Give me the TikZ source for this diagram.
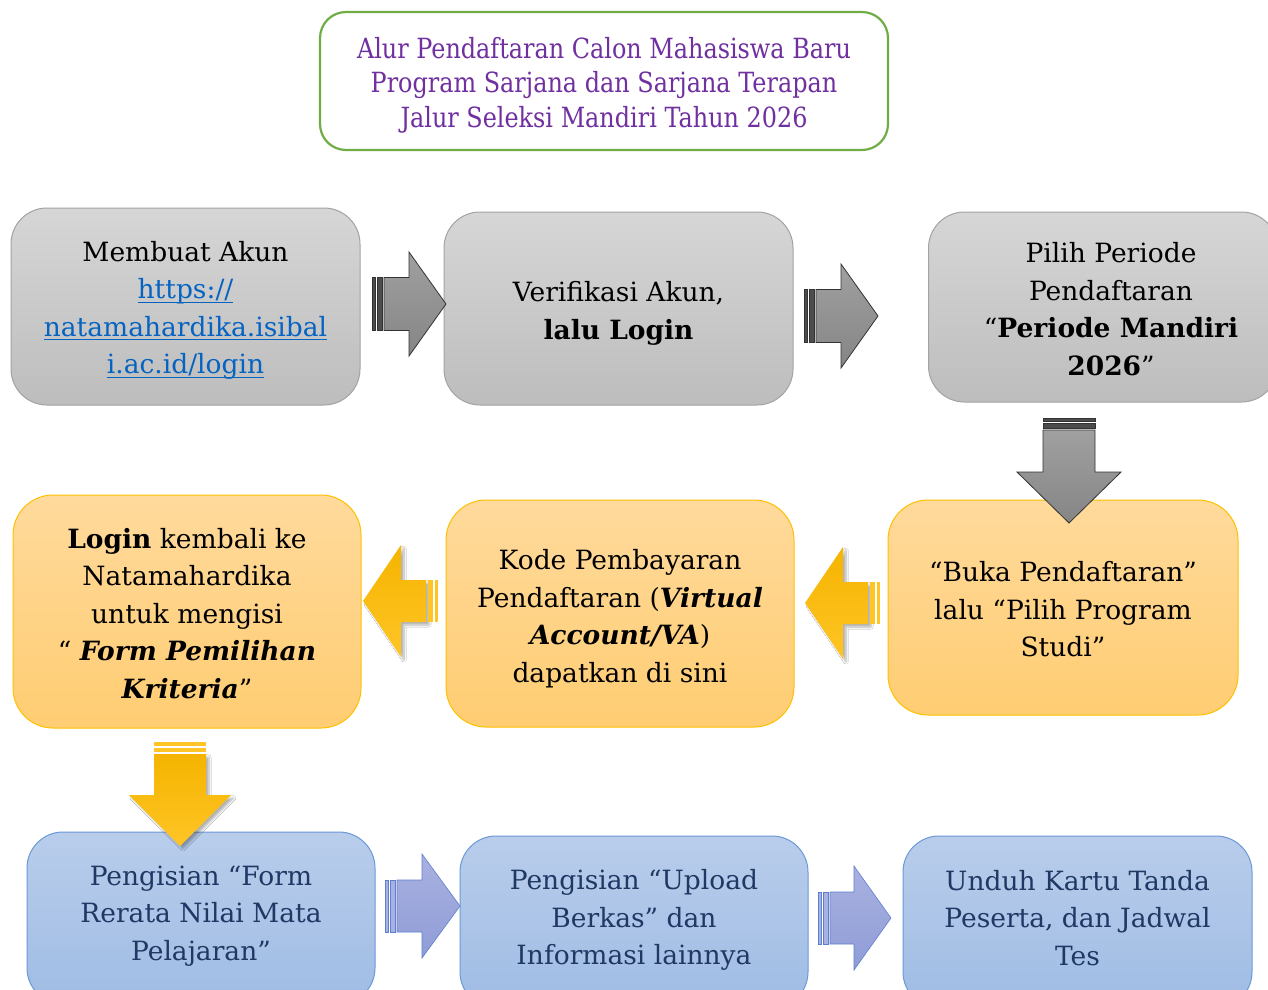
\documentclass[tikz,border=0pt]{standalone}
\usepackage{fontspec}
\setmainfont{DejaVu Serif}
\newfontfamily\titlefont[FakeStretch=0.86]{DejaVu Serif}
\usetikzlibrary{shadows.blur}
\definecolor{titlegreen}{HTML}{70AD47}
\definecolor{titlepurple}{HTML}{7030A0}
\definecolor{graytop}{HTML}{D6D6D6}
\definecolor{graybot}{HTML}{BDBDBD}
\definecolor{grayline}{HTML}{A3A3A3}
\definecolor{orangetop}{HTML}{FFDA9C}
\definecolor{orangebot}{HTML}{FFCD72}
\definecolor{orangeline}{HTML}{FFC000}
\definecolor{bluetop}{HTML}{B9CDEB}
\definecolor{bluebot}{HTML}{9FBCE4}
\definecolor{blueline}{HTML}{6A9AD8}
\definecolor{bluetext}{HTML}{1F3864}
\definecolor{linkblue}{HTML}{0563C1}
\definecolor{arrgray1}{HTML}{A0A0A0}
\definecolor{arrgray2}{HTML}{858585}
\definecolor{arrorange1}{HTML}{F5B400}
\definecolor{arrorange2}{HTML}{FFC526}
\definecolor{arrblue1}{HTML}{A9B1E0}
\definecolor{arrblue2}{HTML}{8F9CD6}
\definecolor{arrblueline}{HTML}{5E7FD0}
% #1 style, #2 x, #3 y (start centre), #4 rotation, #5 length, #6 head length, #7 shaft half, #8 head half
\newcommand\blkarrow[8]{%
  \begin{scope}[shift={(#2,#3)},rotate=#4]
    \path[#1] (12,-#7) -- ({#5-#6},-#7) -- ({#5-#6},-#8) -- (#5,0) -- ({#5-#6},#8) -- ({#5-#6},#7) -- (12,#7) -- cycle;
    \path[#1 stripe] (0,-#7) rectangle (3.5,#7);
    \path[#1 stripe] (5.5,-#7) rectangle (10,#7);
  \end{scope}}
\tikzset{
  box/.style={rounded corners=36pt, line width=1pt, inner sep=0pt},
  txt/.style={align=center, font=\fontsize{26.5}{37.5}\selectfont, inner sep=0pt},
  graybox/.style={box, draw=grayline, top color=graytop, bottom color=graybot},
  orangebox/.style={box, draw=orangeline, top color=orangetop, bottom color=orangebot},
  bluebox/.style={box, draw=blueline, top color=bluetop, bottom color=bluebot},
  bluetxt/.style={txt, text=bluetext},
  grayarrow/.style={draw=black!80, line width=0.8pt, top color=arrgray1, bottom color=arrgray2},
  grayarrow stripe/.style={draw=black!80, line width=0.8pt, fill=black!70},
  orangearrow/.style={top color=arrorange1, bottom color=arrorange2,
    blur shadow={shadow xshift=3pt, shadow yshift=-3pt, shadow blur steps=8, shadow opacity=30}},
  orangearrow stripe/.style={fill=arrorange2},
  bluearrow/.style={draw=arrblueline, line width=0.6pt, top color=arrblue1, bottom color=arrblue2},
  bluearrow stripe/.style={draw=arrblueline, line width=0.6pt, fill=arrblue1},
}
\newcommand\lnk[1]{{\color{linkblue}\setbox0\hbox{#1}\rlap{\raisebox{-4pt}{\rule{\wd0}{1.3pt}}}\box0}}
\begin{document}
\begin{tikzpicture}[x=1pt,y=-1pt]
\useasboundingbox (0,0) rectangle (1268,989);
\fill[white] (0,0) rectangle (1268,989);

% title
\node[draw=titlegreen, line width=2.2pt, rounded corners=26pt, minimum width=568pt,
  minimum height=138pt] (title) at (604,81) {};
\node[align=center, text=titlepurple, inner sep=0pt,
  font=\titlefont\fontsize{27.8}{34.5}\selectfont] (title text) at ([yshift=-4pt]title.center)
  {Alur Pendaftaran Calon Mahasiswa Baru\\Program Sarjana dan Sarjana Terapan\\Jalur Seleksi Mandiri Tahun 2026};

% row 1
\node[graybox, minimum width=349pt, minimum height=197pt] (akun) at (185.5,306.5) {};
\node[txt] (akun text) at ([yshift=-4pt]akun.center)
  {Membuat Akun\\\lnk{https://}\\\lnk{natamahardika.isibal}\\\lnk{i.ac.id/login}};
\node[graybox, minimum width=349pt, minimum height=193pt] (verif) at (618.5,308.5) {};
\node[txt] (verif text) at ([yshift=-5pt]verif.center)
  {Verifikasi Akun,\\\textbf{lalu Login}};
\node[graybox, minimum width=349pt, minimum height=190pt] (periode) at (1103,307) {};
\node[txt] (periode text) at ([xshift=8pt,yshift=-2pt]periode.center)
  {Pilih Periode\\Pendaftaran\\“\textbf{Periode Mandiri}\\\textbf{2026}”};

% row 2
\node[orangebox, rounded corners=40pt, minimum width=348pt, minimum height=233pt] (login) at (187,611.5) {};
\node[txt] (login text) at ([yshift=-2pt]login.center)
  {\textbf{Login} kembali ke\\Natamahardika\\untuk mengisi\\“ \textbf{\textit{Form Pemilihan}}\\\textbf{\textit{Kriteria}}”};
\node[orangebox, rounded corners=40pt, minimum width=348pt, minimum height=227pt] (kode) at (620,613.5) {};
\node[txt] (kode text) at ([yshift=-5pt]kode.center)
  {Kode Pembayaran\\Pendaftaran (\textbf{\textit{Virtual}}\\\textbf{\textit{Account/VA}})\\dapatkan di sini};
\node[orangebox, rounded corners=40pt, minimum width=350pt, minimum height=215pt] (buka) at (1063,607.5) {};
\node[txt] (buka text) at ([yshift=-2pt]buka.center)
  {“Buka Pendaftaran”\\lalu “Pilih Program\\Studi”};

% row 3
\node[bluebox, minimum width=348pt, minimum height=172pt] (rerata) at (201,918) {};
\node[bluetxt] (rerata text) at ([yshift=2pt]rerata.center)
  {Pengisian “Form\\Rerata Nilai Mata\\Pelajaran”};
\node[bluebox, minimum width=348pt, minimum height=172pt] (upload) at (634,922) {};
\node[bluetxt] (upload text) at ([yshift=2pt]upload.center)
  {Pengisian “Upload\\Berkas” dan\\Informasi lainnya};
\node[bluebox, minimum width=349pt, minimum height=172pt] (unduh) at (1077.5,922) {};
\node[bluetxt] (unduh text) at ([yshift=4pt]unduh.center)
  {Unduh Kartu Tanda\\Peserta, dan Jadwal\\Tes};

% arrows
\blkarrow{grayarrow}{372}{304}{0}{74}{37}{26.5}{52}
\blkarrow{grayarrow}{804}{316}{0}{74}{37}{26.5}{52}
\blkarrow{grayarrow}{1069}{418}{-90}{105}{51}{26}{52}
\blkarrow{orangearrow}{880}{603}{180}{75}{38}{21}{56}
\blkarrow{orangearrow}{438}{601}{180}{75}{38}{21}{56}
\blkarrow{orangearrow}{180}{742}{-90}{104}{51}{26}{51}
\blkarrow{bluearrow}{385}{906}{0}{75}{38}{26}{52}
\blkarrow{bluearrow}{818}{918}{0}{73}{37}{26}{52}
\end{tikzpicture}
\end{document}
